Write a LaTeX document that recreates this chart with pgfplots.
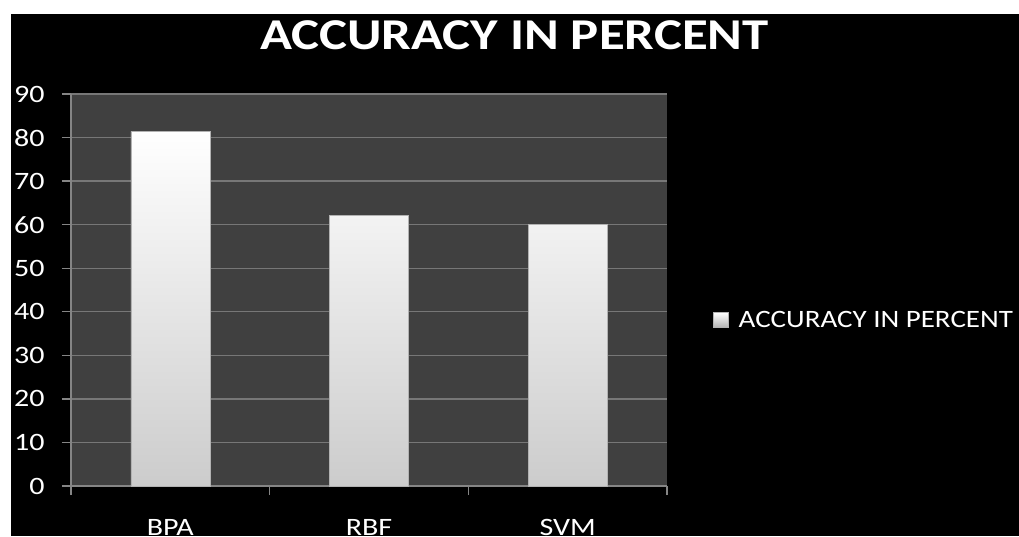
\documentclass[border=0pt]{standalone}
\usepackage{fontspec}
\setmainfont{Carlito}
\usepackage{graphicx}
\usepackage{pgfplots}
\pgfplotsset{compat=1.18}
\definecolor{plotbg}{HTML}{404040}
\definecolor{gridc}{HTML}{777777}
\definecolor{axc}{HTML}{858585}
\newcommand{\wide}[1]{\scalebox{1.2}[1]{#1}}
\pgfdeclarelayer{background}
\pgfsetlayers{background,main}

\begin{document}
\begin{tikzpicture}[x=1pt,y=1pt]
\begin{axis}[
  scale only axis, width=596pt, height=392pt,
  xmin=-0.5, xmax=2.5, ymin=0, ymax=90,
  axis background/.style={fill=plotbg},
  axis x line*=bottom, axis y line*=left,
  axis line style={-, axc, line width=1.3pt},
  ymajorgrids, grid style={gridc, line width=1.3pt},
  ytick={0,10,...,90},
  yticklabel={\wide{\pgfmathprintnumber{\tick}}},
  xtick={-0.5,0.5,1.5,2.5}, xticklabels={},
  extra x ticks={0,1,2},
  extra x tick labels={\wide{BPA},\wide{RBF},\wide{SVM}},
  extra x tick style={major tick length=0pt, grid=none,
    tick label style={anchor=base, yshift=-49pt}},
  tick align=outside, major tick length=9pt,
  tick style={axc, line width=1.3pt},
  tick label style={font=\fontsize{25}{30}\selectfont, text=white},
  yticklabel style={anchor=east, xshift=-14pt},
  /pgf/number format/assume math mode=true,
  title={\wide{ACCURACY IN PERCENT}},
  title style={at={(0.744,1)}, anchor=base, yshift=39pt,
    font=\fontsize{44}{50}\selectfont\bfseries, text=white},
  ybar, bar width=79pt, bar shift=0pt,
  legend style={at={(1.077,0.4235)}, anchor=west, draw=none, fill=none,
    text=white, font=\fontsize{25}{30}\selectfont, inner sep=0pt,
    /tikz/every odd column/.append style={column sep=8pt}},
  legend cell align=left,
]
\addplot[draw=black!30, line width=0.6pt,
  top color=white, middle color=black!3, bottom color=black!20,
  legend image code/.code={\shade[top color=white, bottom color=black!30]
    (0pt,-7.5pt) rectangle (15pt,7.5pt);}]
  coordinates {(0,81.4) (1,62.2) (2,60.0)};
\addlegendentry{\scalebox{1.16}[1]{ACCURACY IN PERCENT}}
\end{axis}
% page behind the chart: white strip on top and left, black elsewhere
\begin{pgfonlayer}{background}
  \fill[white] ([shift={(-170.33,-50)}]current axis.origin)
    rectangle ([shift={(848.67,486)}]current axis.origin);
  \fill[black] ([shift={(-159.33,-50)}]current axis.origin)
    rectangle ([shift={(848.67,472)}]current axis.origin);
\end{pgfonlayer}
\pgfresetboundingbox
\path[use as bounding box] ([shift={(-170.33,-50)}]current axis.origin)
  rectangle ([shift={(848.67,486)}]current axis.origin);
\end{tikzpicture}
\end{document}
